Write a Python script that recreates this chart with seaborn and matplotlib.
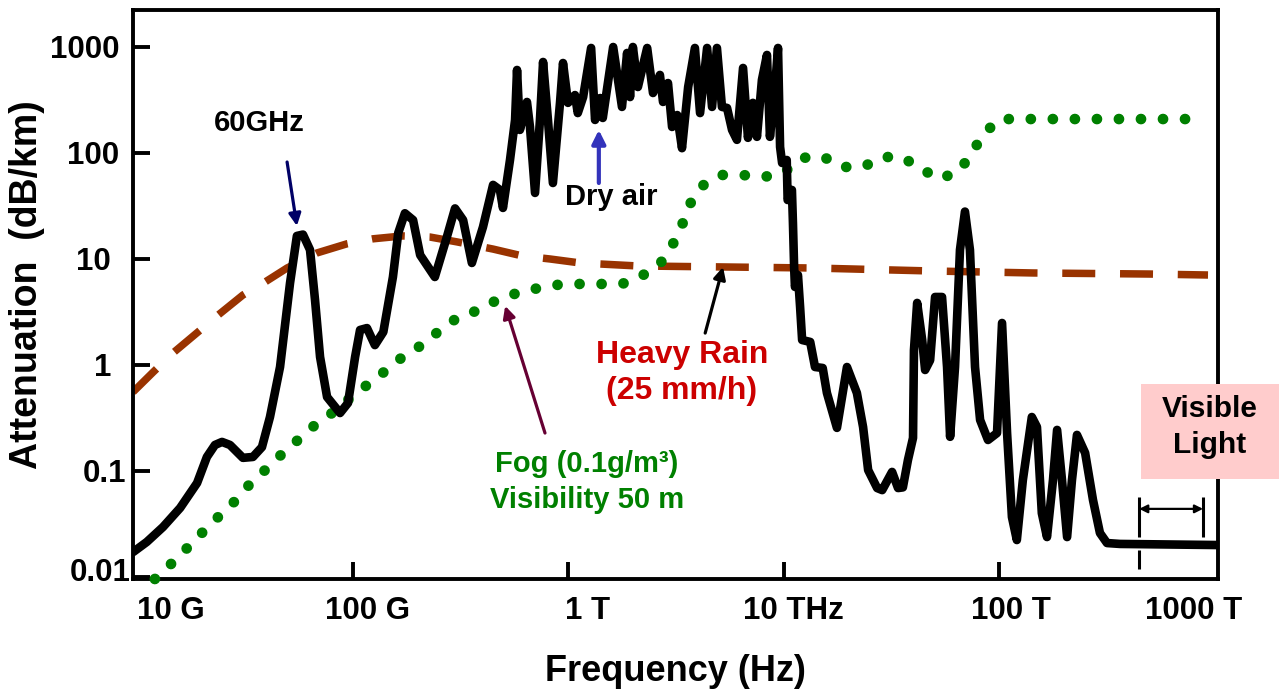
import matplotlib
matplotlib.use("Agg")
import matplotlib.pyplot as plt
import seaborn as sns
from matplotlib.patches import Rectangle
from matplotlib.transforms import ScaledTranslation
from matplotlib.ticker import NullLocator

# ---------------- data ----------------
dry_freq = [9.6e9, 1.11e10, 1.32e10, 1.585e10, 1.90e10, 2.11e10, 2.30e10, 2.48e10, 2.70e10, 3.10e10,
            3.45e10, 3.80e10, 4.14e10, 4.61e10, 5.13e10,
            5.52e10, 5.89e10, 6.35e10, 6.70e10, 7.07e10, 7.62e10, 8.75e10, 9.53e10, 1.028e11, 1.084e11,
            1.167e11, 1.27e11, 1.39e11, 1.54e11, 1.63e11, 1.75e11, 1.91e11, 2.06e11, 2.41e11, 2.74e11,
            2.99e11, 3.26e11, 3.58e11, 4.03e11, 4.49e11, 4.83e11, 4.99e11, 5.38e11, 5.68e11, 5.80e11,
            5.98e11, 6.45e11, 6.66e11, 7.03e11, 7.41e11, 7.66e11, 8.07e11, 8.51e11, 9.18e11, 9.48e11,
            1.00e12, 1.077e12, 1.11e12, 1.175e12, 1.28e12, 1.335e12, 1.41e12, 1.45e12, 1.62e12, 1.78e12,
            1.88e12, 1.94e12, 2.00e12, 2.11e12, 2.33e12, 2.48e12, 2.67e12, 2.76e12, 2.91e12, 3.04e12,
            3.21e12, 3.38e12, 3.61e12, 3.88e12, 4.10e12, 4.42e12, 4.66e12, 4.91e12, 5.18e12, 5.47e12,
            5.77e12, 6.08e12, 6.49e12, 6.84e12, 7.21e12, 7.53e12, 7.94e12, 8.38e12, 8.65e12, 9.14e12,
            9.43e12, 9.64e12, 9.85e12, 1.035e13, 1.045e13, 1.094e13, 1.106e13, 1.12e13, 1.13e13, 1.167e13,
            1.194e13, 1.22e13, 1.33e13, 1.40e13, 1.52e13, 1.59e13, 1.77e13, 1.97e13, 2.19e13, 2.34e13,
            2.47e13, 2.72e13, 2.87e13, 3.19e13, 3.40e13, 3.58e13, 3.78e13, 3.99e13, 4.03e13, 4.17e13,
            4.40e13, 4.54e13, 4.79e13, 5.05e13, 5.44e13, 5.74e13, 5.93e13, 6.25e13, 6.59e13, 6.95e13,
            7.33e13, 7.74e13, 8.17e13, 8.89e13, 9.79e13, 1.033e14, 1.09e14, 1.148e14, 1.21e14, 1.29e14,
            1.42e14, 1.50e14, 1.58e14, 1.67e14, 1.78e14, 1.86e14, 1.96e14, 2.07e14, 2.18e14, 2.30e14,
            2.51e14, 2.73e14, 2.94e14, 3.17e14, 3.64e14, 1.06e15]
dry_atten = [0.0172, 0.0214, 0.0296, 0.0448, 0.077, 0.1356, 0.176, 0.188, 0.176, 0.133,
             0.1356, 0.168, 0.323, 0.957, 5.94,
             16.5, 17.0, 12.2, 4.10, 1.19, 0.499, 0.352, 0.438, 1.19, 2.14,
             2.23, 1.54, 2.05, 6.76, 17.6, 27.0, 23.3, 10.9, 6.76, 16.1,
             30.0, 23.3, 9.17, 20.0, 50.0, 44.8, 30.3, 85.9, 205, 607,
             165, 303, 176, 42.0, 205, 722, 205, 52.1, 297, 706,
             297, 352, 238, 337, 979, 205, 330, 214, 1000, 272,
             878, 337, 1000, 419, 979, 368, 545, 303, 457, 176,
             228, 111, 419, 979, 238, 979, 272, 979, 272, 266,
             165, 133, 634, 139, 297, 142, 489, 841, 142, 419,
             979, 114, 80.5, 85.9, 36.0, 44.8, 21.9, 8.40, 5.45, 7.06,
             3.52, 1.72, 1.65, 0.957, 0.937, 0.545, 0.255, 0.957, 0.545, 0.260,
             0.102, 0.069, 0.066, 0.098, 0.069, 0.070, 0.127, 0.205, 1.38, 3.85,
             1.72, 0.897, 1.11, 4.38, 4.38, 0.957, 0.210, 0.957, 12.2, 28.0,
             12.2, 0.957, 0.303, 0.196, 0.228, 2.49, 0.228, 0.0368, 0.0223, 0.082,
             0.323, 0.260, 0.040, 0.0238, 0.082, 0.244, 0.082, 0.0238, 0.082, 0.219,
             0.148, 0.0532, 0.026, 0.0209, 0.0205, 0.020]

fog_freq = [1.21e10, 1.44e10, 1.71e10, 2.00e10, 2.38e10, 2.82e10, 3.31e10, 3.93e10, 4.66e10, 5.58e10,
            6.62e10, 8.03e10, 9.64e10, 1.167e11, 1.40e11, 1.66e11, 2.06e11, 2.49e11, 3.05e11, 3.74e11,
            4.69e11, 5.80e11, 6.95e11, 8.79e11, 1.11e12, 1.41e12, 1.78e12, 2.20e12, 2.67e12, 3.04e12,
            3.38e12, 3.68e12, 4.19e12, 5.13e12, 6.41e12, 8.12e12, 9.95e12, 1.22e13, 1.51e13, 1.85e13,
            2.34e13, 2.87e13, 3.55e13, 4.35e13, 5.32e13, 6.52e13, 7.50e13, 8.44e13, 1.01e14, 2.94e14,
            8.6e14]
fog_atten = [0.00957, 0.0133, 0.0188, 0.026, 0.0368, 0.051, 0.0738, 0.102, 0.142, 0.196,
             0.266, 0.352, 0.478, 0.647, 0.859, 1.14, 1.51, 2.05, 2.77, 3.23,
             4.10, 4.77, 5.21, 5.69, 5.81, 5.81, 5.81, 6.92, 8.98, 13.3,
             20.9, 33.0, 48.9, 62.0, 62.0, 59.4, 64.8, 89.7, 93.7, 73.8,
             73.8, 91.6, 91.6, 70.6, 56.9, 67.6, 100, 151, 209, 209,
             209]

rain_freq = [9.58e9, 1.19e10, 1.47e10, 1.92e10, 2.38e10, 3.10e10, 3.93e10, 4.97e10, 6.84e10, 9.42e10,
             1.245e11, 1.71e11, 2.29e11, 3.05e11, 4.49e11, 6.12e11, 8.25e11, 1.14e12, 2.11e12, 5.24e12,
             1.37e13, 4.79e13, 1.44e14, 5.02e14, 9.33e14]
rain_atten = [0.556, 0.859, 1.30, 2.05, 2.96, 4.57, 6.07, 8.22, 11.4, 13.9,
              15.5, 16.5, 16.1, 14.5, 12.4, 10.7, 10.0, 9.17, 8.59, 8.41,
              8.22, 7.71, 7.38, 7.21, 7.06]

x_tick_values = [1e10, 1e11, 1e12, 1e13, 1e14, 1e15]
x_tick_labels = ["10 G", "100 G", "1 T", "10 THz", "100 T", "1000 T"]
y_tick_values = [0.01, 0.1, 1, 10, 100, 1000]
y_tick_labels = ["0.01", "0.1", "1", "10", "100", "1000"]

visible_band = [4.47e14, 8.85e14]

# ---------------- style ----------------
sns.set_style("ticks")
plt.rcParams['font.family'] = ['Liberation Sans', 'DejaVu Sans']
plt.rcParams['font.weight'] = 'bold'
plt.rcParams['text.color'] = 'black'
plt.rcParams['axes.labelcolor'] = 'black'
plt.rcParams['xtick.color'] = 'black'
plt.rcParams['ytick.color'] = 'black'

fig = plt.figure(figsize=(12.82, 6.95), dpi=100)
ax = fig.add_axes([133 / 1282, 1 - 579 / 695, (1218 - 133) / 1282, (579 - 10) / 695])

# rain (dashed)
sns.lineplot(x=rain_freq, y=rain_atten, ax=ax, color='#993300', linewidth=5.4,
             sort=False, estimator=None, zorder=2)
ln = ax.lines[-1]
ln.set_dashes([4.4, 3.3])
ln.set_dash_capstyle('butt')

# fog (dotted)
sns.lineplot(x=fog_freq, y=fog_atten, ax=ax, color='#008000', linewidth=7.7,
             sort=False, estimator=None, zorder=3)
ln = ax.lines[-1]
ln.set_dashes([0.01, 2.05])
ln.set_dash_capstyle('round')
ln.set_clip_on(False)

# dry air (solid black)
sns.lineplot(x=dry_freq, y=dry_atten, ax=ax, color='black', linewidth=6.2,
             sort=False, estimator=None, zorder=4)
ln = ax.lines[-1]
ln.set_solid_joinstyle('round')
ln.set_solid_capstyle('round')

ax.set_xscale('log')
ax.set_yscale('log')
ax.set_xlim(9.58e9, 1.038e15)
ax.set_ylim(0.00957, 2233)

ax.set_xticks(x_tick_values)
ax.set_xticklabels(x_tick_labels)
ax.set_yticks(y_tick_values)
ax.set_yticklabels(y_tick_labels)
ax.xaxis.set_minor_locator(NullLocator())
ax.yaxis.set_minor_locator(NullLocator())
ax.tick_params(axis='both', direction='in', length=12, width=2.8, labelsize=22.5,
               colors='black')
ax.tick_params(axis='x', pad=12)
ax.tick_params(axis='y', pad=10)

xt = ax.xaxis.get_major_ticks()
xt[0].tick1line.set_visible(False)
xt[-1].tick1line.set_visible(False)

x_dx = [34, 15, 20, 10, 12, -21]
for lbl, dx in zip(ax.get_xticklabels(), x_dx):
    lbl.set_transform(lbl.get_transform() + ScaledTranslation(dx / 100, 0, fig.dpi_scale_trans))
    lbl.set_fontweight('bold')
y_dx = [12, 7, -8, -8, 0, 0]
y_dy = [7, 0, 0, 0, 0, 0]
for lbl, dx, dy in zip(ax.get_yticklabels(), y_dx, y_dy):
    lbl.set_transform(lbl.get_transform() + ScaledTranslation(dx / 100, dy / 100, fig.dpi_scale_trans))
    lbl.set_fontweight('bold')

for s in ax.spines.values():
    s.set_linewidth(2.8)
    s.set_color('black')
    s.set_visible(True)

ax.set_xlabel('Frequency (Hz)', fontsize=26, fontweight='bold', color='black')
ax.xaxis.set_label_coords(0.4995, -0.1634)
ax.xaxis.label.set_va('center')
ax.set_ylabel('Attenuation  (dB/km)', fontsize=27, fontweight='bold', color='black')
ax.yaxis.set_label_coords(-0.0977, 0.517)
ax.yaxis.label.set_va('center')
ax.yaxis.label.set_ha('center')

# ---------------- annotations ----------------
def arrow(tail, tip, color, lw=2.3, scale=18):
    ax.annotate('', xy=tip, xytext=tail,
                arrowprops=dict(arrowstyle='-|>', color=color, lw=lw,
                                mutation_scale=scale, shrinkA=0, shrinkB=0),
                zorder=6)

ax.text(3.68e10, 192, '60GHz', ha='center', va='center', fontsize=21, color='black',
        fontweight='bold')
arrow((4.97e10, 82.2), (5.52e10, 20.5), '#000066')

ax.text(1.585e12, 38.5, 'Dry air', ha='center', va='center', fontsize=21, color='black',
        fontweight='bold')
arrow((1.39e12, 52.1), (1.39e12, 165), '#3333bb', lw=3.0, scale=20)

ax.text(3.38e12, 0.841, 'Heavy Rain\n(25 mm/h)', ha='center', va='center', fontsize=23,
        color='#cc0000', fontweight='bold', linespacing=1.3)
arrow((4.33e12, 2.00), (5.24e12, 8.41), 'black')

ax.text(1.22e12, 0.0787, 'Fog (0.1g/m³)\nVisibility 50 m', ha='center', va='center',
        fontsize=21, color='#008000', fontweight='bold', linespacing=1.35)
arrow((7.82e11, 0.228), (5.11e11, 3.61), '#660033')

# visible light band
ax.vlines(visible_band[0], 0.0238, 0.0569, color='black', lw=2.2, zorder=6)
ax.vlines(visible_band[0], 0.0119, 0.018, color='black', lw=2.2, zorder=6)
ax.vlines(visible_band[1], 0.0238, 0.0569, color='black', lw=2.2, zorder=6)
ax.annotate('', xy=(visible_band[1], 0.0439), xytext=(visible_band[0], 0.0439),
            arrowprops=dict(arrowstyle='<|-|>', color='black', lw=1.6,
                            mutation_scale=12, shrinkA=0, shrinkB=0), zorder=6)

rect = Rectangle((1141 / 1282, 1 - 479 / 695), 138 / 1282, 95 / 695,
                 transform=fig.transFigure, facecolor='#ffcccc', edgecolor='none', zorder=5)
fig.add_artist(rect)
fig.text(1210 / 1282, 1 - 427 / 695, 'Visible\nLight', ha='center', va='center', fontsize=21.5,
         fontweight='bold', color='black', linespacing=1.4, zorder=6)

fig.savefig('out.png', dpi=100)
